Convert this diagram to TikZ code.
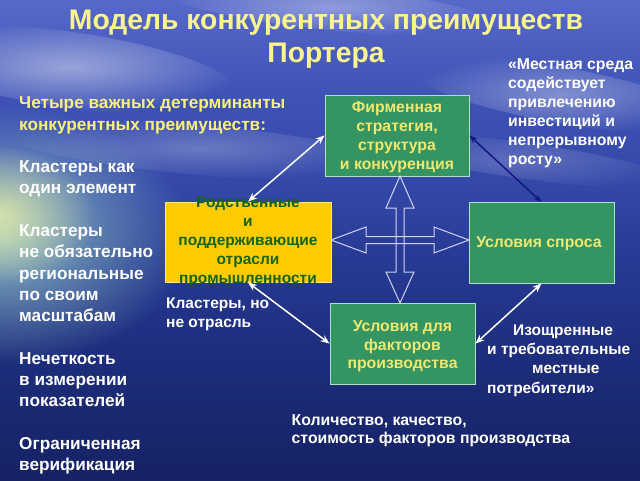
\documentclass[tikz,border=0pt]{standalone}
\usepackage{fontspec}
\setmainfont{Liberation Sans}
\usetikzlibrary{arrows.meta,fadings}
\definecolor{skyA}{RGB}{86,104,200}
\definecolor{skyB}{RGB}{62,82,182}
\definecolor{skyC}{RGB}{52,72,168}
\definecolor{seaA}{RGB}{40,60,150}
\definecolor{seaB}{RGB}{30,46,126}
\definecolor{seaC}{RGB}{22,34,100}
\definecolor{gfill}{RGB}{52,148,98}
\definecolor{gborder}{RGB}{175,225,195}
\definecolor{yfill}{RGB}{255,204,0}
\definecolor{yborder}{RGB}{255,230,120}
\definecolor{dgreen}{RGB}{22,100,22}
\definecolor{btext}{RGB}{240,232,110}
\definecolor{ttext}{RGB}{250,245,140}
\definecolor{hdr}{RGB}{248,242,120}
\definecolor{crossc}{RGB}{210,210,250}
\definecolor{navy}{RGB}{18,18,128}
\definecolor{glowA}{RGB}{160,212,205}
\definecolor{glowB}{RGB}{232,238,165}
\pgfdeclareverticalshading{bgsky}{100bp}{color(0bp)=(seaC); color(25bp)=(seaC); color(38.5bp)=(seaB); color(49bp)=(seaA); color(56bp)=(skyC); color(64.6bp)=(skyB); color(75bp)=(skyA); color(100bp)=(skyA)}
\tikzfading[name=glowfade, inner color=transparent!0, outer color=transparent!100]
\begin{document}
\begin{tikzpicture}[x=1pt,y=-1pt,
  gbox/.style={draw=gborder, line width=0.9pt, fill=gfill, inner sep=0pt},
  ybox/.style={draw=yborder, line width=0.9pt, fill=yfill, inner sep=0pt},
  boxtxt/.style={font=\bfseries\fontsize{15.8}{19}\selectfont, text=btext, align=center, inner sep=0pt},
  reltxt/.style={font=\bfseries\fontsize{15.5}{18.9}\selectfont, text=dgreen, align=center, inner sep=0pt},
  wtxt/.style={font=\bfseries\fontsize{15.8}{19}\selectfont, text=white, align=left, inner sep=0pt, anchor=north west},
  lefttxt/.style={font=\bfseries\fontsize{17.2}{21.3}\selectfont, text=white, align=left, inner sep=0pt, anchor=north west},
  titletxt/.style={font=\bfseries\fontsize{28.3}{33.5}\selectfont, text=ttext, align=center, inner sep=0pt, anchor=north},
  warrow/.style={draw=white, line width=1.5pt, {Stealth[length=9pt,width=7pt]}-{Stealth[length=9pt,width=7pt]}},
  narrow/.style={draw=navy, line width=1.4pt, {Stealth[length=8pt,width=6pt]}-{Stealth[length=8pt,width=6pt]}},
  crossline/.style={draw=crossc, line width=1pt, line join=miter}
]
\useasboundingbox (0,0) rectangle (640,480);
% background
\shade[shading=bgsky] (0,0) rectangle (640,480);
\begin{scope}
\clip (0,0) rectangle (640,480);
\fill[glowA, opacity=0.85, path fading=glowfade] (0,235) ellipse (190pt and 130pt);
\fill[glowB, opacity=0.8, path fading=glowfade] (0,215) ellipse (95pt and 70pt);
\fill[white, opacity=0.45, path fading=glowfade, rotate around={-8:(70,70)}] (70,70) ellipse (170pt and 38pt);
\fill[white, opacity=0.35, path fading=glowfade, rotate around={-6:(330,8)}] (330,8) ellipse (170pt and 22pt);
\fill[white, opacity=0.35, path fading=glowfade, rotate around={-10:(560,95)}] (560,95) ellipse (150pt and 28pt);
\fill[white, opacity=0.25, path fading=glowfade, rotate around={-5:(200,150)}] (200,150) ellipse (200pt and 25pt);
\fill[white, opacity=0.2, path fading=glowfade, rotate around={-8:(520,160)}] (520,160) ellipse (160pt and 18pt);
\end{scope}
% title
\node[titletxt] (title) at (326,5.5) {\strut Модель конкурентных преимуществ\\ Портера\strut};
% boxes
\node[gbox, minimum width=144pt, minimum height=81pt] (firm) at (397,135.5) {};
\node[ybox, minimum width=166pt, minimum height=80pt] (rel) at (248,242) {};
\node[gbox, minimum width=145pt, minimum height=80.5pt] (dem) at (541.5,242.75) {};
\node[gbox, minimum width=145pt, minimum height=80.7pt] (fac) at (402.5,343.6) {};
\node[boxtxt] (firmT) at (397,137.5) {\strut Фирменная\\ стратегия,\\ структура\\ и конкуренция\strut};
\node[reltxt] (relT) at (248,241.5) {\strut Родственные\\ и\\ поддерживающие\\ отрасли\\ промышленности\strut};
\node[boxtxt, anchor=base] (demT) at (539,247) {Условия спроса};
\node[boxtxt, font=\bfseries\fontsize{15.8}{18.3}\selectfont] (facT) at (402.5,346.4) {\strut Условия для\\ факторов\\ производства\strut};
% central cross
\coordinate (cc) at (400,240);
\begin{scope}[shift={(cc)}]
\draw[crossline] (0,-64) -- (14,-32) -- (4,-32) -- (4,32) -- (14,32) -- (0,63) -- (-14,32) -- (-4,32) -- (-4,-32) -- (-14,-32) -- cycle;
\draw[crossline] (-69,0) -- (-34,-13) -- (-34,-3.5) -- (34,-3.5) -- (34,-13) -- (69,0) -- (34,13) -- (34,3.5) -- (-34,3.5) -- (-34,13) -- cycle;
\end{scope}
% connectors
\draw[warrow] (rel.north) -- (firm.west);
\draw[narrow] (firm.east) -- (dem.north);
\draw[warrow] (rel.south) -- (fac.west);
\draw[warrow] (fac.east) -- (dem.south);
% side texts
\node[lefttxt] (det) at (19,93.6) {\textcolor{hdr}{\strut Четыре важных детерминанты}\\ \textcolor{hdr}{конкурентных преимуществ:}\\ \\ Кластеры как\\ один элемент\\ \\ Кластеры\\ не обязательно\\ региональные\\ по своим\\ масштабам\\ \\ Нечеткость\\ в измерении\\ показателей\\ \\ Ограниченная\\ верификация};
\node[wtxt] (env) at (508,55.7) {\strut «Местная среда\\ содействует\\ привлечению\\ инвестиций и\\ непрерывному\\ росту»};
\node[wtxt, font=\bfseries\fontsize{15.5}{19}\selectfont] (clu) at (166,294.7) {\strut Кластеры, но\\ не отрасль};
\node[wtxt, font=\bfseries\fontsize{15.5}{19.3}\selectfont] (cons) at (487,321.5) {\strut\hspace*{26pt}Изощренные\\ и требовательные\\ \hspace*{45pt}местные\\ потребители»};
\node[wtxt, font=\bfseries\fontsize{15.8}{18.5}\selectfont] (qty) at (291.5,412) {\strut Количество, качество,\\ стоимость факторов производства};
\end{tikzpicture}
\end{document}
